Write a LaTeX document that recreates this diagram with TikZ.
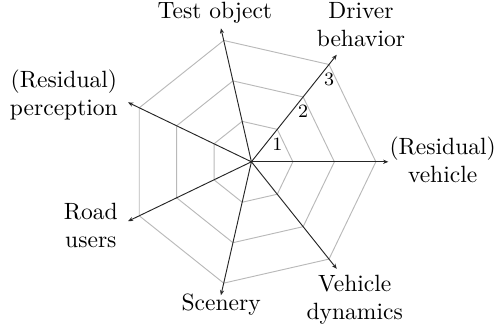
\documentclass[tikz,border=0pt]{standalone}
\usetikzlibrary{arrows.meta}

\tikzset{
  gridline/.style={draw=gray!55, line width=0.4pt},
  axisline/.style={draw=black!85, line width=0.4pt, -{Stealth[length=2.2pt,width=1.8pt]}},
  ringnum/.style={font=\footnotesize, below},
  axislabel/.style={align=center},
}

\begin{document}
\begin{tikzpicture}[x=0.62cm,y=0.62cm]
      \def \a {360/7};
      \def \len {3.3};

      \useasboundingbox (-6.06,-4.07) rectangle (5.92,3.90);

      \coordinate (o) at (0,0);

      % rings
      \foreach \r in {1,2,3} {
        \draw[gridline] (0:\r) \foreach \k in {1,...,6} { -- (\k*\a:\r) } -- cycle;
      }

      % axes
      \foreach \k in {0,...,6} {
        \coordinate (tip\k) at (\k*\a:\len);
        \draw[axisline] (o) -- (tip\k);
      }

      \foreach \r in {1,2,3} {
        \node[ringnum] (num\r) at (\a:\r) {\r};
      }

      \node[axislabel] (vehicle) at (4.61,0.05) {(Residual)\\vehicle};
      \node[axislabel] (driver) at (2.64,3.30) {Driver\\behavior};
      \node[axislabel] (testobj) at (-0.88,3.59) {Test object};
      \node[axislabel] (percept) at (-4.52,1.61) {(Residual)\\perception};
      \node[axislabel] (roadusers) at (-3.87,-1.54) {Road\\users};
      \node[axislabel] (scenery) at (-0.73,-3.45) {Scenery};
      \node[axislabel] (dynamics) at (2.49,-3.33) {Vehicle\\dynamics};
    \end{tikzpicture}
\end{document}
